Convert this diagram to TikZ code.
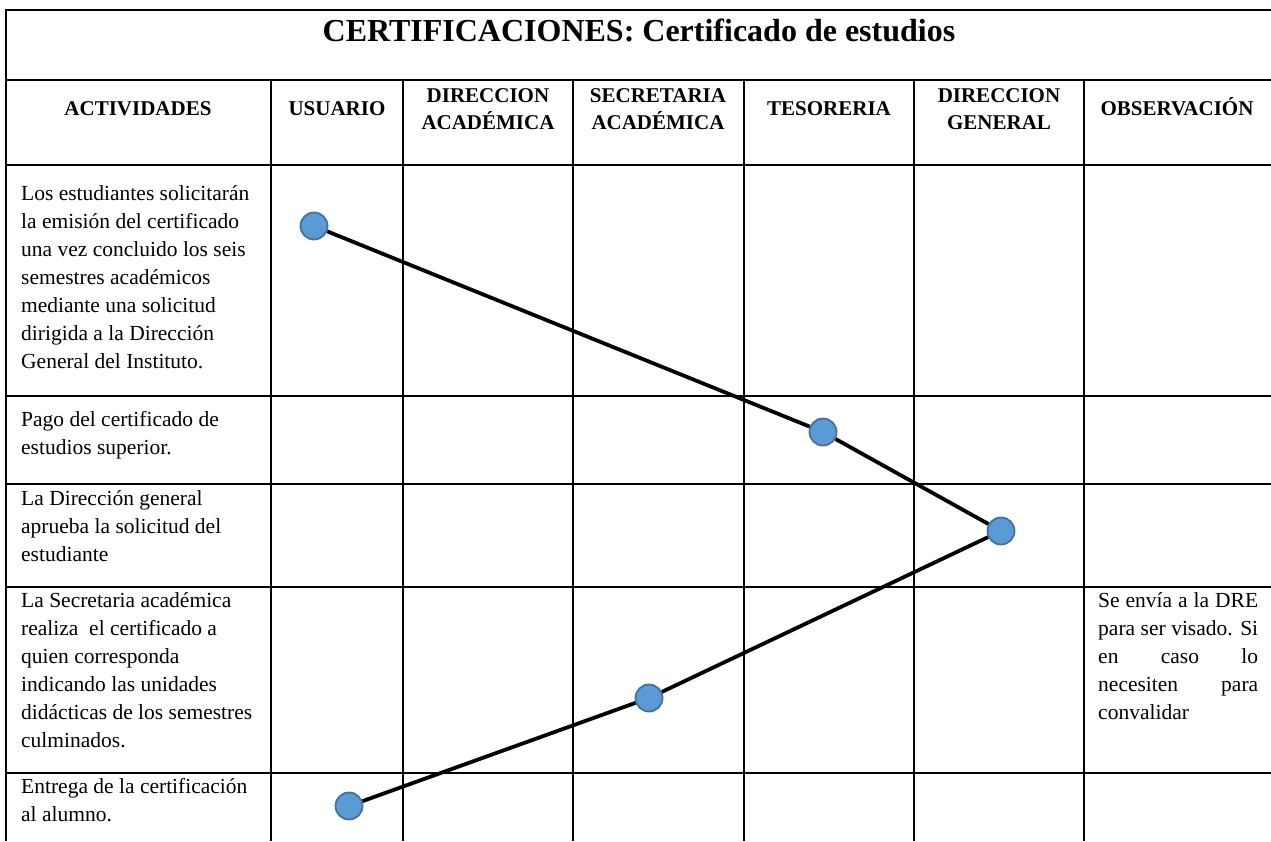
\documentclass[tikz,border=0pt]{standalone}
\usepackage{fontspec}
\setmainfont{Liberation Serif}
\definecolor{dotfill}{RGB}{91,155,213}
\definecolor{dotline}{RGB}{65,113,156}
\begin{document}
\begin{tikzpicture}[x=1pt,y=-1pt,
  grid/.style={line width=2.3pt,black},
  body/.style={font=\fontsize{21.5}{28}\selectfont,align=left,inner sep=0pt,anchor=base west},
  head/.style={font=\fontsize{21}{27}\selectfont\bfseries,align=center,inner sep=0pt,anchor=base},
  titletext/.style={font=\fontsize{32}{36}\selectfont\bfseries,inner sep=0pt,anchor=base},
  dot/.style={circle,minimum size=27pt,inner sep=0pt,fill=dotfill,draw=dotline,line width=1.8pt},
  link/.style={line width=3.8pt,black}]
\useasboundingbox (0,0) rectangle (1271,841);
% table grid
\draw[grid] (6,10) -- (1271,10);
\draw[grid] (6,80) -- (1271,80);
\foreach \y in {165,396,484,587,773} \draw[grid] (6,\y) -- (1271,\y);
\draw[grid] (6,8.85) -- (6,841);
\foreach \x in {271,403,573,744,914,1084} \draw[grid] (\x,80) -- (\x,841);
% title
\node[titletext] (title) at (639,41) {CERTIFICACIONES: Certificado de estudios};
% headers (anchor = baseline of last line)
\node[head] (h1) at (138,115.5) {ACTIVIDADES};
\node[head] (h2) at (337,115.5) {USUARIO};
\node[head] (h3) at (488,129.5) {DIRECCION\\ACADÉMICA};
\node[head] (h4) at (658,129.5) {SECRETARIA\\ACADÉMICA};
\node[head] (h5) at (829,115.5) {TESORERIA};
\node[head] (h6) at (999,129.5) {DIRECCION\\GENERAL};
\node[head] (h7) at (1177,115.5) {OBSERVACIÓN};
% activities (anchor = baseline of last line)
\node[body] (a1) at (21,368) {Los estudiantes solicitarán\\la emisión del certificado\\una vez concluido los seis\\semestres académicos\\mediante una solicitud\\dirigida a la Dirección\\General del Instituto.};
\node[body] (a2) at (21,454) {Pago del certificado de\\estudios superior.};
\node[body] (a3) at (21,561) {La Dirección general\\aprueba la solicitud del\\estudiante};
\node[body] (a4) at (21,747) {La Secretaria académica\\realiza\ \ el certificado a\\quien corresponda\\indicando las unidades\\didácticas de los semestres\\culminados.};
\node[body] (a5) at (21,821) {Entrega de la certificación\\al alumno.};
% observation
\node[body] (o4) at (1098,719) {\makebox[160pt][s]{Se envía a la DRE}\\\makebox[160pt][s]{para ser visado. Si}\\\makebox[160pt][s]{en caso lo}\\\makebox[160pt][s]{necesiten para}\\convalidar};
% flow
\node[dot] (c1) at (314,226) {};
\node[dot] (c2) at (823,432) {};
\node[dot] (c3) at (1001,531) {};
\node[dot] (c4) at (649,698) {};
\node[dot] (c5) at (349,806) {};
\draw[link] (c1) -- (c2);
\draw[link] (c2) -- (c3);
\draw[link] (c3) -- (c4);
\draw[link] (c4) -- (c5);
\end{tikzpicture}
\end{document}
